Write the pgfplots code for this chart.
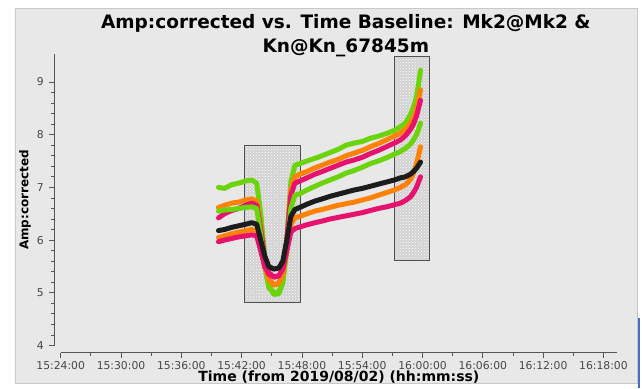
\documentclass[border=0pt]{standalone}
\usepackage{fontspec}
\setmainfont{DejaVu Sans}
\usepackage{pgfplots}
\pgfplotsset{compat=1.18}
\usetikzlibrary{patterns,backgrounds}
\definecolor{panel}{HTML}{E8E8E8}
\definecolor{panelborder}{HTML}{C8C8C8}
\definecolor{axgray}{HTML}{555555}
\definecolor{ticktext}{HTML}{474747}
\definecolor{boxfill}{HTML}{D2D2D2}
\definecolor{boxedge}{HTML}{505050}
\definecolor{cgreen}{HTML}{6CD40A}
\definecolor{corange}{HTML}{FF8205}
\definecolor{cpink}{HTML}{E6126E}
\definecolor{cblack}{HTML}{1C1C1C}
\definecolor{edgeblue}{HTML}{4A6CC8}

\pgfplotstableread{
t G1 O1 P1 G2 K O2 P2
39.7 7.00 6.62 6.42 6.55 6.18 6.05 5.97
40.3 6.98 6.66 6.50 6.57 6.20 6.08 6.00
41.0 7.05 6.70 6.56 6.58 6.24 6.12 6.03
41.7 7.08 6.72 6.60 6.60 6.27 6.15 6.06
42.4 7.12 6.76 6.66 6.62 6.30 6.18 6.08
43.0 7.14 6.78 6.70 6.63 6.33 6.20 6.10
43.5 7.08 6.74 6.66 6.60 6.30 6.18 6.08
43.9 6.50 6.25 6.20 6.10 6.00 5.85 5.80
44.3 5.70 5.60 5.65 5.50 5.70 5.50 5.50
44.7 5.15 5.25 5.38 5.10 5.50 5.25 5.35
45.2 4.97 5.15 5.30 5.00 5.45 5.15 5.30
45.7 4.98 5.17 5.32 5.02 5.47 5.18 5.32
46.1 5.20 5.35 5.45 5.20 5.60 5.35 5.45
46.5 6.00 6.00 6.00 5.80 6.00 5.80 5.80
46.9 7.10 6.95 6.85 6.60 6.45 6.30 6.15
47.3 7.42 7.20 7.08 6.85 6.58 6.42 6.22
47.8 7.45 7.25 7.12 6.88 6.62 6.45 6.25
48.5 7.50 7.30 7.18 6.95 6.68 6.50 6.29
49.3 7.55 7.37 7.25 7.02 6.74 6.55 6.33
50.0 7.60 7.42 7.30 7.08 6.78 6.58 6.36
50.8 7.66 7.48 7.36 7.14 6.83 6.62 6.40
51.6 7.72 7.53 7.42 7.20 6.87 6.66 6.43
52.4 7.80 7.60 7.48 7.27 6.91 6.69 6.46
53.2 7.84 7.65 7.52 7.32 6.95 6.72 6.49
54.0 7.87 7.70 7.57 7.38 6.98 6.76 6.52
54.8 7.93 7.77 7.64 7.45 7.02 6.80 6.56
55.6 7.97 7.83 7.70 7.50 7.06 6.85 6.60
56.4 8.02 7.90 7.77 7.56 7.10 6.90 6.63
57.2 8.08 7.97 7.84 7.63 7.14 6.95 6.67
57.8 8.15 8.03 7.90 7.68 7.18 7.00 6.70
58.3 8.22 8.10 7.98 7.74 7.20 7.05 6.75
58.8 8.38 8.22 8.10 7.82 7.25 7.15 6.82
59.1 8.52 8.32 8.20 7.90 7.30 7.27 6.90
59.4 8.72 8.48 8.35 8.00 7.36 7.45 7.00
59.6 8.95 8.65 8.50 8.10 7.42 7.60 7.10
59.8 9.22 8.85 8.65 8.22 7.48 7.77 7.20
}\ampdata

\begin{document}
\begin{tikzpicture}
\begin{axis}[
  name=ax,
  scale only axis, width=556.3pt, height=291.5pt,
  xmin=24, xmax=79.35, ymin=4, ymax=9.53,
  axis x line*=bottom, axis y line*=left,
  axis x line shift=7.2pt, axis y line shift=6.4pt,
  axis line style={-, draw=axgray, line width=0.8pt},
  every tick/.style={axgray, line width=0.8pt},
  tick align=outside,
  major tick length=5pt, minor tick length=3pt,
  xtick={24,30,36,42,48,54,60,66,72,78},
  xticklabels={15:24:00,15:30:00,15:36:00,15:42:00,15:48:00,15:54:00,16:00:00,16:06:00,16:12:00,16:18:00},
  minor x tick num=1,
  ytick={4,5,6,7,8,9}, minor y tick num=4,
  /pgf/number format/assume math mode=true,
  tick label style={font=\fontsize{10.8}{12}\selectfont, text=ticktext},
  yticklabel style={xshift=-2pt},
  xlabel={Time (from 2019/08/02) (hh:mm:ss)},
  ylabel={Amp:corrected},
  xlabel style={font=\bfseries\fontsize{14}{16}\selectfont, at={(axis description cs:0.5,-0.108)}, anchor=center},
  ylabel style={font=\bfseries\fontsize{12}{14}\selectfont, at={(axis description cs:-0.0642,0.5)}, anchor=center},
  title={Amp:corrected vs. Time Baseline: Mk2@Mk2 \&\\Kn@Kn\_67845m},
  title style={font=\bfseries\fontsize{18.5}{24}\selectfont, align=center, at={(axis description cs:0.5,1)}, anchor=center, yshift=12pt, xshift=7pt},
  clip=false,
]
\addplot[fill=boxfill, draw=boxedge, line width=0.8pt, postaction={pattern=crosshatch dots, pattern color=white}] coordinates {(42.24,4.82) (47.81,4.82) (47.81,7.80) (42.24,7.80)} -- cycle;
\addplot[fill=boxfill, draw=boxedge, line width=0.8pt, postaction={pattern=crosshatch dots, pattern color=white}] coordinates {(57.19,5.62) (60.68,5.62) (60.68,9.49) (57.19,9.49)} -- cycle;
\addplot[cgreen, line width=5pt, line join=round, line cap=round] table[x=t, y=G1] {\ampdata};
\addplot[corange, line width=5pt, line join=round, line cap=round] table[x=t, y=O1] {\ampdata};
\addplot[cpink, line width=5pt, line join=round, line cap=round] table[x=t, y=P1] {\ampdata};
\addplot[cgreen, line width=5pt, line join=round, line cap=round] table[x=t, y=G2] {\ampdata};
\addplot[corange, line width=5pt, line join=round, line cap=round] table[x=t, y=O2] {\ampdata};
\addplot[cpink, line width=5pt, line join=round, line cap=round] table[x=t, y=P2] {\ampdata};
\addplot[cblack, line width=5pt, line join=round, line cap=round] table[x=t, y=K] {\ampdata};
\end{axis}
\begin{scope}[on background layer, shift={(ax.south west)}, x=1pt, y=1pt]
\fill[white] (-60.7,-42.5) rectangle ++(642,388);
\filldraw[fill=panel, draw=panelborder, line width=0.8pt] (-45.7,-37.5) rectangle (576.3,337.5);
\fill[edgeblue] (577.3,-42.5) rectangle (579.3,27.5);
\end{scope}
\pgfresetboundingbox
\path[use as bounding box, shift={(ax.south west)}, x=1pt, y=1pt] (-60.7,-42.5) rectangle ++(642,388);
\end{tikzpicture}
\end{document}
